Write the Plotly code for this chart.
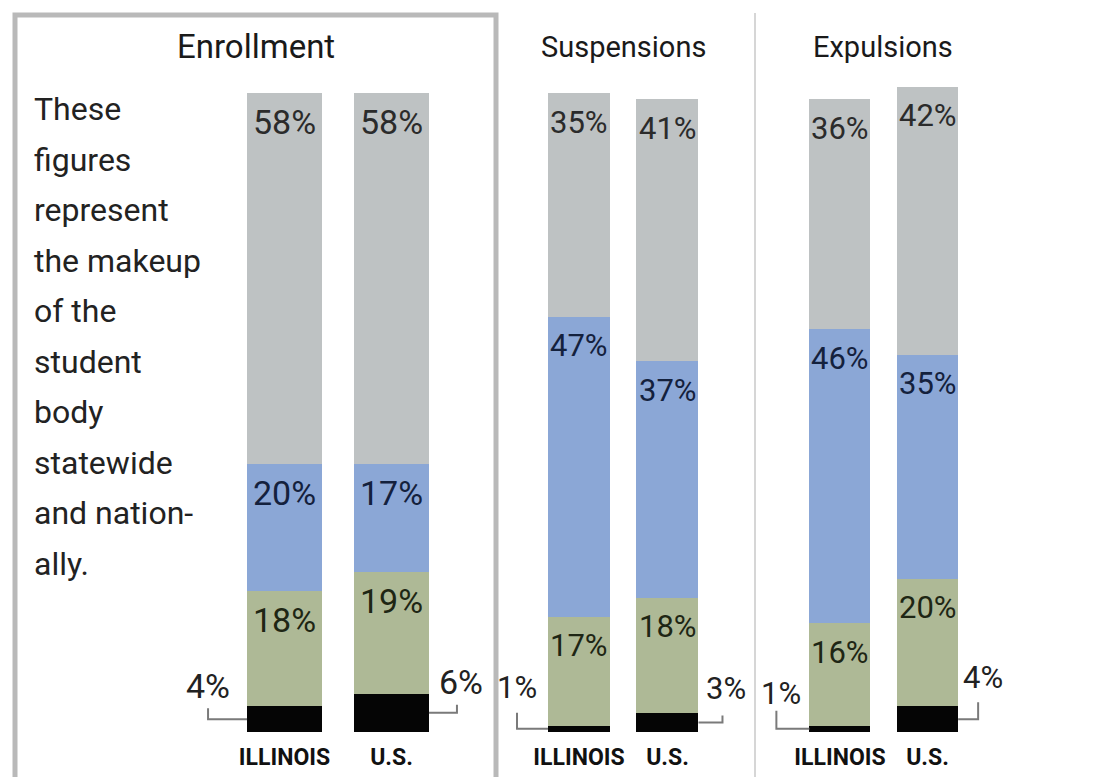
import plotly.graph_objects as go

# ---------------- data ----------------
panels = ["Enrollment", "Suspensions", "Expulsions"]
categories = ["ILLINOIS", "U.S."]
black_vals = [[4, 6], [1, 3], [1, 4]]
green_vals = [[18, 19], [17, 18], [16, 20]]
blue_vals = [[20, 17], [47, 37], [46, 35]]
gray_vals = [[58, 58], [35, 41], [36, 42]]
note_lines = ["These", "figures", "represent", "the makeup", "of the", "student",
              "body", "statewide", "and nation-", "ally."]

# ---------------- style ----------------
W, H = 1117, 777
FONT = "Roboto, Lato, sans-serif"
colors = {"black": "#050505", "green": "#aeb996", "blue": "#8ba7d6", "gray": "#bec2c3"}
label_colors = {"green": "#1e2614", "blue": "#14213d", "gray": "#2b2b2b"}
# bar centres (px) of the two bars in each panel -> axis domains for range [-0.9, 1.9]
centers_px = [(284.5, 391.5), (579, 667.5), (840, 927.5)]
x_range = [-0.9, 1.9]
title_x_px = [256, 623, 883]
title_sizes = [33, 29, 29]
pct_sizes = [34, 31, 31]
y_domain = [1 - 732 / H, 1 - 29.1 / H]
y_range = [0, 110]
bar_w = 0.7
# leader style per panel/bar: (horizontal length px, rise px, text dx, text dy)
leader_px = [[(39, 11, 0, 33), (28, 8, 4, 31)],
             [(31, 16, 0, 41), (24, 7, 4, 34)],
             [(33, 18, 5, 35), (20, 17, 5, 42)]]

fig = go.Figure()
annotations = []
shapes = []
xs = [0, 1]

for p, name in enumerate(panels):
    ax = "" if p == 0 else str(p + 1)
    xref, yref = "x" + ax, "y" + ax
    series = [("black", black_vals[p]), ("green", green_vals[p]),
              ("blue", blue_vals[p]), ("gray", gray_vals[p])]
    for key, vals in series:
        fig.add_trace(go.Bar(x=xs, y=vals, width=bar_w, marker_color=colors[key],
                             marker_line_width=0, showlegend=False,
                             hoverinfo="skip", xaxis=xref, yaxis=yref))
    # segment labels
    for i in range(2):
        cum = 0
        for key, vals in series:
            v = vals[i]
            cum += v
            if key == "black":
                continue
            annotations.append(dict(x=xs[i], y=cum, xref=xref, yref=yref,
                                    text=f"{v}%", showarrow=False, yshift=-29,
                                    yanchor="middle", xanchor="center",
                                    font=dict(family=FONT, size=pct_sizes[p],
                                              color=label_colors[key])))
        # black segment: outside label with leader line
        side = -1 if i == 0 else 1
        L, rise, tdx, tdy = leader_px[p][i]
        bv = black_vals[p][i]
        anchor_x = xs[i] + side * bar_w / 2
        mid = bv / 2
        line = dict(color="#7a7a7a", width=2)
        shapes.append(dict(type="path", xref=xref, yref=yref,
                           xsizemode="pixel", ysizemode="pixel",
                           xanchor=anchor_x, yanchor=mid,
                           path=f"M0,0 L{side * L},0 L{side * L},{rise}",
                           line=line))
        annotations.append(dict(x=anchor_x, y=mid, xref=xref, yref=yref,
                                text=f"{bv}%", showarrow=False,
                                xshift=side * L + tdx, yshift=tdy,
                                xanchor="center", yanchor="middle",
                                font=dict(family=FONT, size=pct_sizes[p], color="#222222")))
    # panel title
    annotations.append(dict(x=title_x_px[p] / W, y=1 - 47 / H, xref="paper", yref="paper",
                            text=name, showarrow=False, xanchor="center", yanchor="middle",
                            font=dict(family=FONT, size=title_sizes[p], color="#1a1a1a")))
    c0, c1 = centers_px[p]
    unit = c1 - c0
    d0 = c0 + (x_range[0]) * unit
    d1 = c0 + (x_range[1]) * unit
    fig.update_layout({
        "xaxis" + ax: dict(domain=[d0 / W, d1 / W], range=x_range, tickvals=xs,
                           ticktext=categories, showgrid=False, zeroline=False,
                           showline=False, ticks="", fixedrange=True,
                           ticklabelstandoff=9,
                           tickfont=dict(family=FONT, size=23, color="#111111", weight="bold"),
                           anchor="y" + ax),
        "yaxis" + ax: dict(domain=y_domain, range=y_range, visible=False,
                           showgrid=False, zeroline=False, fixedrange=True,
                           anchor="x" + ax),
    })

# side note, one annotation per line (baseline spacing ~50px)
for k, txt in enumerate(note_lines):
    baseline = 120 + 50.5 * k
    annotations.append(dict(x=35 / W, y=1 - (baseline - 11) / H, xref="paper", yref="paper",
                            text=txt, showarrow=False, xanchor="left", yanchor="middle",
                            align="left", xshift=-3,
                            font=dict(family=FONT, size=32, color="#222222")))

# enrollment box and divider
shapes.append(dict(type="rect", xref="paper", yref="paper",
                   x0=15 / W, x1=496 / W, y0=1 - 15 / H, y1=-0.1,
                   line=dict(color="#b9b9b9", width=5)))
shapes.append(dict(type="line", xref="paper", yref="paper",
                   x0=755 / W, x1=755 / W, y0=1 - 13 / H, y1=0,
                   line=dict(color="#d6d6d6", width=2)))

fig.update_layout(width=W, height=H, margin=dict(l=0, r=0, t=0, b=0),
                  paper_bgcolor="white", plot_bgcolor="white",
                  barmode="stack", bargap=0,
                  annotations=annotations, shapes=shapes)

fig.write_html("out.html", config={"displayModeBar": False},
               post_script="document.body.style.margin='0';document.body.style.overflow='hidden';")
